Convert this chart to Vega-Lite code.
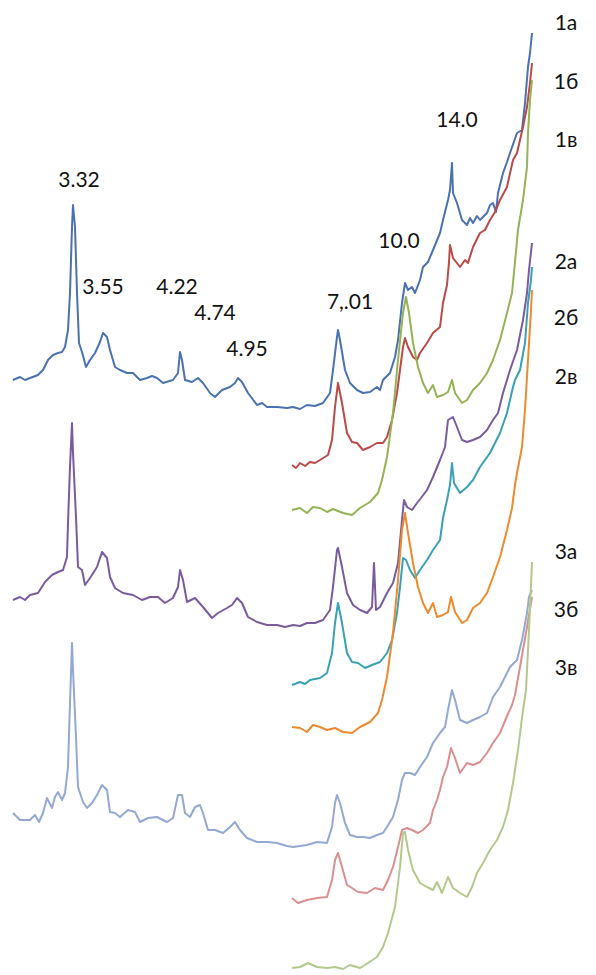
{
  "$schema": "https://vega.github.io/schema/vega-lite/v6.json",
  "width": 596,
  "height": 975,
  "padding": 0,
  "autosize": {"type": "fit", "contains": "padding"},
  "background": "white",
  "config": {"view": {"stroke": null}},
  "datasets": {
    "lines": [
      {"s":"1а","x":13,"y":380},{"s":"1а","x":20,"y":377},{"s":"1а","x":25,"y":380},{"s":"1а","x":30,"y":378},{"s":"1а","x":38,"y":375},{"s":"1а","x":43,"y":370},{"s":"1а","x":48,"y":360},{"s":"1а","x":53,"y":355},{"s":"1а","x":58,"y":353},{"s":"1а","x":62,"y":352},{"s":"1а","x":65,"y":347},{"s":"1а","x":68,"y":330},{"s":"1а","x":70,"y":293},{"s":"1а","x":72,"y":227},{"s":"1а","x":73,"y":205},{"s":"1а","x":75,"y":227},{"s":"1а","x":77,"y":293},{"s":"1а","x":79,"y":343},{"s":"1а","x":82,"y":352},{"s":"1а","x":86,"y":367},{"s":"1а","x":90,"y":360},{"s":"1а","x":95,"y":353},{"s":"1а","x":100,"y":342},{"s":"1а","x":103,"y":333},{"s":"1а","x":107,"y":337},{"s":"1а","x":110,"y":350},{"s":"1а","x":115,"y":367},{"s":"1а","x":120,"y":370},{"s":"1а","x":127,"y":373},{"s":"1а","x":133,"y":373},{"s":"1а","x":140,"y":380},{"s":"1а","x":147,"y":378},{"s":"1а","x":152,"y":376},{"s":"1а","x":157,"y":378},{"s":"1а","x":163,"y":383},{"s":"1а","x":173,"y":380},{"s":"1а","x":178,"y":373},{"s":"1а","x":180,"y":352},{"s":"1а","x":182,"y":360},{"s":"1а","x":185,"y":380},{"s":"1а","x":192,"y":382},{"s":"1а","x":198,"y":378},{"s":"1а","x":203,"y":383},{"s":"1а","x":210,"y":393},{"s":"1а","x":215,"y":397},{"s":"1а","x":222,"y":390},{"s":"1а","x":230,"y":387},{"s":"1а","x":235,"y":383},{"s":"1а","x":238,"y":378},{"s":"1а","x":242,"y":382},{"s":"1а","x":248,"y":393},{"s":"1а","x":257,"y":405},{"s":"1а","x":262,"y":403},{"s":"1а","x":267,"y":407},{"s":"1а","x":277,"y":407},{"s":"1а","x":287,"y":408},{"s":"1а","x":293,"y":407},{"s":"1а","x":300,"y":409},{"s":"1а","x":307,"y":405},{"s":"1а","x":315,"y":406},{"s":"1а","x":323,"y":403},{"s":"1а","x":330,"y":393},{"s":"1а","x":333,"y":370},{"s":"1а","x":337,"y":337},{"s":"1а","x":338,"y":330},{"s":"1а","x":340,"y":340},{"s":"1а","x":345,"y":370},{"s":"1а","x":350,"y":383},{"s":"1а","x":357,"y":390},{"s":"1а","x":363,"y":393},{"s":"1а","x":370,"y":392},{"s":"1а","x":377,"y":387},{"s":"1а","x":380,"y":390},{"s":"1а","x":383,"y":380},{"s":"1а","x":390,"y":373},{"s":"1а","x":395,"y":357},{"s":"1а","x":398,"y":340},{"s":"1а","x":402,"y":303},{"s":"1а","x":405,"y":283},{"s":"1а","x":408,"y":290},{"s":"1а","x":412,"y":287},{"s":"1а","x":415,"y":293},{"s":"1а","x":420,"y":280},{"s":"1а","x":423,"y":267},{"s":"1а","x":428,"y":262},{"s":"1а","x":433,"y":250},{"s":"1а","x":440,"y":233},{"s":"1а","x":443,"y":220},{"s":"1а","x":448,"y":200},{"s":"1а","x":450,"y":190},{"s":"1а","x":452,"y":163},{"s":"1а","x":453,"y":193},{"s":"1а","x":457,"y":203},{"s":"1а","x":462,"y":220},{"s":"1а","x":467,"y":225},{"s":"1а","x":470,"y":218},{"s":"1а","x":473,"y":223},{"s":"1а","x":477,"y":216},{"s":"1а","x":480,"y":220},{"s":"1а","x":487,"y":213},{"s":"1а","x":490,"y":205},{"s":"1а","x":493,"y":203},{"s":"1а","x":496,"y":212},{"s":"1а","x":498,"y":193},{"s":"1а","x":503,"y":173},{"s":"1а","x":507,"y":162},{"s":"1а","x":510,"y":153},{"s":"1а","x":517,"y":133},{"s":"1а","x":522,"y":130},{"s":"1а","x":525,"y":103},{"s":"1а","x":528,"y":67},{"s":"1а","x":530,"y":53},{"s":"1а","x":532,"y":33},

      {"s":"1б","x":292,"y":465},{"s":"1б","x":296,"y":468},{"s":"1б","x":300,"y":463},{"s":"1б","x":305,"y":466},{"s":"1б","x":310,"y":462},{"s":"1б","x":315,"y":463},{"s":"1б","x":320,"y":460},{"s":"1б","x":328,"y":455},{"s":"1б","x":332,"y":440},{"s":"1б","x":335,"y":407},{"s":"1б","x":338,"y":383},{"s":"1б","x":342,"y":403},{"s":"1б","x":347,"y":433},{"s":"1б","x":352,"y":442},{"s":"1б","x":357,"y":443},{"s":"1б","x":363,"y":450},{"s":"1б","x":370,"y":447},{"s":"1б","x":377,"y":443},{"s":"1б","x":383,"y":443},{"s":"1б","x":387,"y":437},{"s":"1б","x":392,"y":420},{"s":"1б","x":397,"y":393},{"s":"1б","x":400,"y":370},{"s":"1б","x":403,"y":347},{"s":"1б","x":405,"y":338},{"s":"1б","x":408,"y":347},{"s":"1б","x":413,"y":357},{"s":"1б","x":417,"y":360},{"s":"1б","x":420,"y":353},{"s":"1б","x":427,"y":343},{"s":"1б","x":433,"y":333},{"s":"1б","x":440,"y":327},{"s":"1б","x":443,"y":303},{"s":"1б","x":447,"y":285},{"s":"1б","x":449,"y":262},{"s":"1б","x":450,"y":245},{"s":"1б","x":453,"y":258},{"s":"1б","x":460,"y":267},{"s":"1б","x":465,"y":260},{"s":"1б","x":468,"y":263},{"s":"1б","x":473,"y":247},{"s":"1б","x":480,"y":233},{"s":"1б","x":485,"y":230},{"s":"1б","x":490,"y":220},{"s":"1б","x":495,"y":212},{"s":"1б","x":500,"y":200},{"s":"1б","x":507,"y":187},{"s":"1б","x":513,"y":160},{"s":"1б","x":517,"y":153},{"s":"1б","x":520,"y":140},{"s":"1б","x":523,"y":127},{"s":"1б","x":527,"y":107},{"s":"1б","x":530,"y":83},{"s":"1б","x":532,"y":63},

      {"s":"1в","x":292,"y":510},{"s":"1в","x":300,"y":508},{"s":"1в","x":307,"y":513},{"s":"1в","x":313,"y":507},{"s":"1в","x":320,"y":508},{"s":"1в","x":327,"y":512},{"s":"1в","x":333,"y":509},{"s":"1в","x":343,"y":513},{"s":"1в","x":352,"y":515},{"s":"1в","x":360,"y":508},{"s":"1в","x":370,"y":502},{"s":"1в","x":378,"y":493},{"s":"1в","x":382,"y":480},{"s":"1в","x":387,"y":457},{"s":"1в","x":393,"y":413},{"s":"1в","x":398,"y":360},{"s":"1в","x":403,"y":313},{"s":"1в","x":406,"y":297},{"s":"1в","x":409,"y":313},{"s":"1в","x":413,"y":343},{"s":"1в","x":418,"y":367},{"s":"1в","x":423,"y":383},{"s":"1в","x":428,"y":393},{"s":"1в","x":433,"y":385},{"s":"1в","x":437,"y":397},{"s":"1в","x":443,"y":395},{"s":"1в","x":448,"y":392},{"s":"1в","x":452,"y":380},{"s":"1в","x":455,"y":393},{"s":"1в","x":462,"y":403},{"s":"1в","x":467,"y":400},{"s":"1в","x":473,"y":390},{"s":"1в","x":480,"y":383},{"s":"1в","x":487,"y":373},{"s":"1в","x":493,"y":360},{"s":"1в","x":500,"y":340},{"s":"1в","x":507,"y":313},{"s":"1в","x":512,"y":293},{"s":"1в","x":515,"y":262},{"s":"1в","x":518,"y":230},{"s":"1в","x":523,"y":200},{"s":"1в","x":527,"y":167},{"s":"1в","x":528,"y":133},{"s":"1в","x":530,"y":100},{"s":"1в","x":532,"y":80},

      {"s":"2а","x":13,"y":600},{"s":"2а","x":20,"y":597},{"s":"2а","x":25,"y":600},{"s":"2а","x":30,"y":595},{"s":"2а","x":38,"y":593},{"s":"2а","x":45,"y":582},{"s":"2а","x":52,"y":575},{"s":"2а","x":58,"y":572},{"s":"2а","x":63,"y":570},{"s":"2а","x":67,"y":557},{"s":"2а","x":68,"y":523},{"s":"2а","x":70,"y":467},{"s":"2а","x":72,"y":423},{"s":"2а","x":73,"y":453},{"s":"2а","x":76,"y":517},{"s":"2а","x":78,"y":567},{"s":"2а","x":82,"y":570},{"s":"2а","x":85,"y":585},{"s":"2а","x":90,"y":578},{"s":"2а","x":97,"y":567},{"s":"2а","x":102,"y":552},{"s":"2а","x":107,"y":558},{"s":"2а","x":110,"y":577},{"s":"2а","x":115,"y":588},{"s":"2а","x":123,"y":593},{"s":"2а","x":133,"y":595},{"s":"2а","x":142,"y":600},{"s":"2а","x":150,"y":597},{"s":"2а","x":158,"y":597},{"s":"2а","x":165,"y":603},{"s":"2а","x":173,"y":598},{"s":"2а","x":178,"y":587},{"s":"2а","x":180,"y":570},{"s":"2а","x":183,"y":580},{"s":"2а","x":187,"y":602},{"s":"2а","x":195,"y":598},{"s":"2а","x":203,"y":607},{"s":"2а","x":212,"y":618},{"s":"2а","x":218,"y":613},{"s":"2а","x":227,"y":608},{"s":"2а","x":232,"y":605},{"s":"2а","x":237,"y":598},{"s":"2а","x":242,"y":603},{"s":"2а","x":248,"y":617},{"s":"2а","x":257,"y":622},{"s":"2а","x":267,"y":625},{"s":"2а","x":277,"y":625},{"s":"2а","x":285,"y":627},{"s":"2а","x":293,"y":625},{"s":"2а","x":300,"y":626},{"s":"2а","x":307,"y":623},{"s":"2а","x":315,"y":623},{"s":"2а","x":323,"y":620},{"s":"2а","x":330,"y":610},{"s":"2а","x":333,"y":587},{"s":"2а","x":337,"y":550},{"s":"2а","x":338,"y":548},{"s":"2а","x":342,"y":567},{"s":"2а","x":347,"y":593},{"s":"2а","x":353,"y":605},{"s":"2а","x":360,"y":610},{"s":"2а","x":367,"y":613},{"s":"2а","x":372,"y":607},{"s":"2а","x":374,"y":563},{"s":"2а","x":376,"y":610},{"s":"2а","x":380,"y":607},{"s":"2а","x":387,"y":593},{"s":"2а","x":393,"y":583},{"s":"2а","x":398,"y":563},{"s":"2а","x":402,"y":520},{"s":"2а","x":404,"y":500},{"s":"2а","x":407,"y":507},{"s":"2а","x":412,"y":510},{"s":"2а","x":417,"y":503},{"s":"2а","x":421,"y":498},{"s":"2а","x":427,"y":490},{"s":"2а","x":433,"y":477},{"s":"2а","x":440,"y":460},{"s":"2а","x":445,"y":447},{"s":"2а","x":448,"y":420},{"s":"2а","x":453,"y":417},{"s":"2а","x":457,"y":427},{"s":"2а","x":462,"y":440},{"s":"2а","x":467,"y":442},{"s":"2а","x":473,"y":440},{"s":"2а","x":480,"y":437},{"s":"2а","x":487,"y":430},{"s":"2а","x":493,"y":420},{"s":"2а","x":498,"y":413},{"s":"2а","x":503,"y":393},{"s":"2а","x":510,"y":370},{"s":"2а","x":517,"y":350},{"s":"2а","x":523,"y":320},{"s":"2а","x":527,"y":293},{"s":"2а","x":529,"y":270},{"s":"2а","x":532,"y":243},

      {"s":"2б","x":292,"y":685},{"s":"2б","x":300,"y":682},{"s":"2б","x":305,"y":684},{"s":"2б","x":310,"y":680},{"s":"2б","x":320,"y":678},{"s":"2б","x":327,"y":673},{"s":"2б","x":332,"y":653},{"s":"2б","x":335,"y":623},{"s":"2б","x":338,"y":603},{"s":"2б","x":342,"y":623},{"s":"2б","x":347,"y":653},{"s":"2б","x":352,"y":662},{"s":"2б","x":358,"y":663},{"s":"2б","x":365,"y":668},{"s":"2б","x":372,"y":665},{"s":"2б","x":380,"y":662},{"s":"2б","x":387,"y":653},{"s":"2б","x":392,"y":640},{"s":"2б","x":397,"y":613},{"s":"2б","x":400,"y":587},{"s":"2б","x":403,"y":558},{"s":"2б","x":406,"y":560},{"s":"2б","x":410,"y":570},{"s":"2б","x":415,"y":578},{"s":"2б","x":420,"y":570},{"s":"2б","x":427,"y":560},{"s":"2б","x":433,"y":550},{"s":"2б","x":440,"y":540},{"s":"2б","x":443,"y":518},{"s":"2б","x":447,"y":500},{"s":"2б","x":450,"y":485},{"s":"2б","x":452,"y":463},{"s":"2б","x":454,"y":483},{"s":"2б","x":460,"y":493},{"s":"2б","x":467,"y":487},{"s":"2б","x":473,"y":480},{"s":"2б","x":480,"y":467},{"s":"2б","x":490,"y":453},{"s":"2б","x":500,"y":433},{"s":"2б","x":507,"y":413},{"s":"2б","x":513,"y":387},{"s":"2б","x":515,"y":380},{"s":"2б","x":520,"y":370},{"s":"2б","x":525,"y":343},{"s":"2б","x":528,"y":303},{"s":"2б","x":531,"y":280},{"s":"2б","x":532,"y":267},

      {"s":"2в","x":292,"y":727},{"s":"2в","x":300,"y":728},{"s":"2в","x":307,"y":732},{"s":"2в","x":313,"y":725},{"s":"2в","x":320,"y":727},{"s":"2в","x":327,"y":730},{"s":"2в","x":335,"y":728},{"s":"2в","x":343,"y":732},{"s":"2в","x":352,"y":733},{"s":"2в","x":360,"y":727},{"s":"2в","x":370,"y":722},{"s":"2в","x":378,"y":713},{"s":"2в","x":382,"y":700},{"s":"2в","x":387,"y":677},{"s":"2в","x":393,"y":633},{"s":"2в","x":398,"y":580},{"s":"2в","x":402,"y":530},{"s":"2в","x":405,"y":513},{"s":"2в","x":408,"y":533},{"s":"2в","x":413,"y":563},{"s":"2в","x":418,"y":587},{"s":"2в","x":423,"y":603},{"s":"2в","x":428,"y":613},{"s":"2в","x":433,"y":603},{"s":"2в","x":437,"y":617},{"s":"2в","x":443,"y":615},{"s":"2в","x":448,"y":612},{"s":"2в","x":451,"y":597},{"s":"2в","x":455,"y":612},{"s":"2в","x":462,"y":623},{"s":"2в","x":467,"y":620},{"s":"2в","x":473,"y":608},{"s":"2в","x":480,"y":603},{"s":"2в","x":487,"y":593},{"s":"2в","x":493,"y":577},{"s":"2в","x":500,"y":557},{"s":"2в","x":507,"y":530},{"s":"2в","x":512,"y":508},{"s":"2в","x":515,"y":485},{"s":"2в","x":517,"y":473},{"s":"2в","x":522,"y":447},{"s":"2в","x":525,"y":410},{"s":"2в","x":528,"y":360},{"s":"2в","x":531,"y":310},{"s":"2в","x":532,"y":290},

      {"s":"3а","x":13,"y":813},{"s":"3а","x":20,"y":820},{"s":"3а","x":30,"y":820},{"s":"3а","x":35,"y":815},{"s":"3а","x":39,"y":822},{"s":"3а","x":43,"y":813},{"s":"3а","x":47,"y":798},{"s":"3а","x":52,"y":808},{"s":"3а","x":55,"y":797},{"s":"3а","x":58,"y":792},{"s":"3а","x":62,"y":800},{"s":"3а","x":65,"y":793},{"s":"3а","x":68,"y":767},{"s":"3а","x":70,"y":703},{"s":"3а","x":72,"y":643},{"s":"3а","x":73,"y":670},{"s":"3а","x":76,"y":737},{"s":"3а","x":78,"y":787},{"s":"3а","x":83,"y":802},{"s":"3а","x":87,"y":808},{"s":"3а","x":92,"y":803},{"s":"3а","x":97,"y":795},{"s":"3а","x":102,"y":785},{"s":"3а","x":107,"y":790},{"s":"3а","x":110,"y":812},{"s":"3а","x":115,"y":813},{"s":"3а","x":120,"y":817},{"s":"3а","x":128,"y":810},{"s":"3а","x":135,"y":812},{"s":"3а","x":140,"y":822},{"s":"3а","x":148,"y":818},{"s":"3а","x":157,"y":817},{"s":"3а","x":167,"y":822},{"s":"3а","x":173,"y":818},{"s":"3а","x":178,"y":795},{"s":"3а","x":182,"y":795},{"s":"3а","x":185,"y":813},{"s":"3а","x":190,"y":817},{"s":"3а","x":195,"y":807},{"s":"3а","x":200,"y":805},{"s":"3а","x":203,"y":813},{"s":"3а","x":208,"y":830},{"s":"3а","x":215,"y":830},{"s":"3а","x":223,"y":833},{"s":"3а","x":230,"y":827},{"s":"3а","x":235,"y":822},{"s":"3а","x":240,"y":830},{"s":"3а","x":247,"y":838},{"s":"3а","x":257,"y":842},{"s":"3а","x":267,"y":842},{"s":"3а","x":277,"y":843},{"s":"3а","x":287,"y":846},{"s":"3а","x":293,"y":847},{"s":"3а","x":300,"y":846},{"s":"3а","x":307,"y":845},{"s":"3а","x":317,"y":842},{"s":"3а","x":327,"y":843},{"s":"3а","x":332,"y":827},{"s":"3а","x":335,"y":803},{"s":"3а","x":337,"y":795},{"s":"3а","x":340,"y":803},{"s":"3а","x":345,"y":823},{"s":"3а","x":350,"y":835},{"s":"3а","x":357,"y":837},{"s":"3а","x":363,"y":837},{"s":"3а","x":370,"y":838},{"s":"3а","x":377,"y":835},{"s":"3а","x":383,"y":833},{"s":"3а","x":387,"y":827},{"s":"3а","x":393,"y":817},{"s":"3а","x":398,"y":800},{"s":"3а","x":402,"y":780},{"s":"3а","x":405,"y":773},{"s":"3а","x":410,"y":773},{"s":"3а","x":415,"y":775},{"s":"3а","x":420,"y":767},{"s":"3а","x":427,"y":757},{"s":"3а","x":433,"y":743},{"s":"3а","x":440,"y":733},{"s":"3а","x":445,"y":727},{"s":"3а","x":448,"y":710},{"s":"3а","x":452,"y":690},{"s":"3а","x":455,"y":700},{"s":"3а","x":460,"y":720},{"s":"3а","x":467,"y":723},{"s":"3а","x":473,"y":720},{"s":"3а","x":480,"y":717},{"s":"3а","x":487,"y":713},{"s":"3а","x":493,"y":697},{"s":"3а","x":500,"y":687},{"s":"3а","x":510,"y":667},{"s":"3а","x":517,"y":660},{"s":"3а","x":522,"y":640},{"s":"3а","x":527,"y":613},{"s":"3а","x":529,"y":597},{"s":"3а","x":532,"y":590},

      {"s":"3б","x":292,"y":898},{"s":"3б","x":298,"y":903},{"s":"3б","x":307,"y":900},{"s":"3б","x":317,"y":898},{"s":"3б","x":327,"y":897},{"s":"3б","x":332,"y":880},{"s":"3б","x":335,"y":860},{"s":"3б","x":338,"y":853},{"s":"3б","x":342,"y":867},{"s":"3б","x":347,"y":885},{"s":"3б","x":352,"y":888},{"s":"3б","x":358,"y":892},{"s":"3б","x":367,"y":893},{"s":"3б","x":375,"y":888},{"s":"3б","x":383,"y":890},{"s":"3б","x":388,"y":880},{"s":"3б","x":393,"y":867},{"s":"3б","x":398,"y":847},{"s":"3б","x":402,"y":830},{"s":"3б","x":407,"y":828},{"s":"3б","x":412,"y":830},{"s":"3б","x":418,"y":833},{"s":"3б","x":423,"y":830},{"s":"3б","x":430,"y":823},{"s":"3б","x":433,"y":810},{"s":"3б","x":437,"y":800},{"s":"3б","x":440,"y":790},{"s":"3б","x":443,"y":777},{"s":"3б","x":447,"y":767},{"s":"3б","x":451,"y":748},{"s":"3б","x":455,"y":758},{"s":"3б","x":460,"y":773},{"s":"3б","x":467,"y":763},{"s":"3б","x":473,"y":765},{"s":"3б","x":480,"y":762},{"s":"3б","x":487,"y":753},{"s":"3б","x":493,"y":743},{"s":"3б","x":500,"y":733},{"s":"3б","x":507,"y":716},{"s":"3б","x":512,"y":705},{"s":"3б","x":515,"y":695},{"s":"3б","x":520,"y":667},{"s":"3б","x":527,"y":627},{"s":"3б","x":532,"y":597},

      {"s":"3в","x":292,"y":968},{"s":"3в","x":300,"y":967},{"s":"3в","x":308,"y":963},{"s":"3в","x":317,"y":967},{"s":"3в","x":327,"y":968},{"s":"3в","x":335,"y":967},{"s":"3в","x":343,"y":969},{"s":"3в","x":350,"y":965},{"s":"3в","x":360,"y":968},{"s":"3в","x":368,"y":963},{"s":"3в","x":377,"y":957},{"s":"3в","x":383,"y":947},{"s":"3в","x":388,"y":933},{"s":"3в","x":395,"y":907},{"s":"3в","x":400,"y":867},{"s":"3в","x":403,"y":833},{"s":"3в","x":405,"y":832},{"s":"3в","x":408,"y":850},{"s":"3в","x":413,"y":870},{"s":"3в","x":420,"y":883},{"s":"3в","x":427,"y":887},{"s":"3в","x":433,"y":890},{"s":"3в","x":437,"y":882},{"s":"3в","x":442,"y":893},{"s":"3в","x":448,"y":877},{"s":"3в","x":453,"y":888},{"s":"3в","x":460,"y":893},{"s":"3в","x":467,"y":897},{"s":"3в","x":472,"y":887},{"s":"3в","x":477,"y":873},{"s":"3в","x":483,"y":863},{"s":"3в","x":490,"y":850},{"s":"3в","x":497,"y":840},{"s":"3в","x":503,"y":827},{"s":"3в","x":508,"y":810},{"s":"3в","x":513,"y":783},{"s":"3в","x":518,"y":750},{"s":"3в","x":523,"y":710},{"s":"3в","x":526,"y":690},{"s":"3в","x":529,"y":630},{"s":"3в","x":532,"y":562}
    ],
    "labels": [
      {"t":"1а","x":566,"y":24,"a":"left"},
      {"t":"1б","x":566,"y":83,"a":"left"},
      {"t":"1в","x":566,"y":141,"a":"left"},
      {"t":"2а","x":566,"y":263,"a":"left"},
      {"t":"2б","x":566,"y":319,"a":"left"},
      {"t":"2в","x":566,"y":378,"a":"left"},
      {"t":"3а","x":566,"y":553,"a":"left"},
      {"t":"3б","x":566,"y":611,"a":"left"},
      {"t":"3в","x":566,"y":669,"a":"left"},
      {"t":"3.32","x":79,"y":181,"a":"center"},
      {"t":"3.55","x":103,"y":288,"a":"center"},
      {"t":"4.22","x":177,"y":288,"a":"center"},
      {"t":"4.74","x":215,"y":314,"a":"center"},
      {"t":"4.95","x":247,"y":350,"a":"center"},
      {"t":"7,.01","x":350,"y":303,"a":"center"},
      {"t":"10.0","x":399,"y":242,"a":"center"},
      {"t":"14.0","x":457,"y":121,"a":"center"}
    ]
  },
  "layer": [
    {
      "data": {"name": "lines"},
      "mark": {"type": "line", "strokeWidth": 2, "strokeJoin": "round"},
      "encoding": {
        "x": {"field": "x", "type": "quantitative", "scale": {"domain": [0, 596], "nice": false, "zero": false}, "axis": null},
        "y": {"field": "y", "type": "quantitative", "scale": {"domain": [0, 975], "reverse": true, "nice": false, "zero": false}, "axis": null},
        "color": {"field": "s", "type": "nominal", "legend": null,
          "scale": {"domain": ["1а","1б","1в","2а","2б","2в","3а","3б","3в"],
                    "range": ["#4a72b0","#b94a48","#93b355","#7a5c9e","#3aa0b5","#ee8a2e","#93a9d3","#d98f8f","#b3c98c"]}},
        "detail": {"field": "s"},
        "order": {"value": null}
      }
    },
    {
      "data": {"name": "labels"},
      "mark": {"type": "text", "font": "Lato", "fontSize": 21, "color": "#111111", "baseline": "middle"},
      "encoding": {
        "x": {"field": "x", "type": "quantitative"},
        "y": {"field": "y", "type": "quantitative"},
        "text": {"field": "t"},
        "align": {"field": "a", "type": "nominal", "scale": null}
      }
    }
  ]
}
